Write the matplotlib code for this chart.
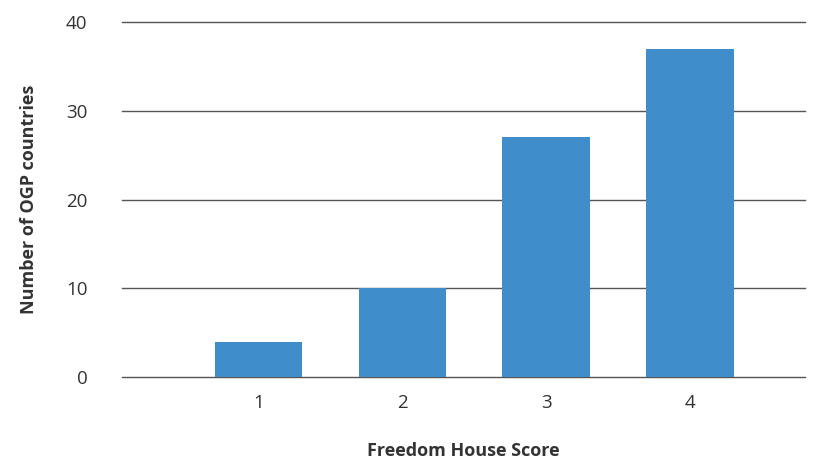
import matplotlib.pyplot as plt

plt.rcParams['font.family'] = ['Open Sans', 'DejaVu Sans']

scores = [1, 2, 3, 4]
counts = [4, 10, 27, 37]
score_labels = ['1', '2', '3', '4']
y_ticks = [0, 10, 20, 30, 40]

fig = plt.figure(figsize=(8.19, 4.61), dpi=100)
ax = fig.add_axes([0.149, 0.182, 0.834, 0.770])

ax.bar(scores, counts, width=0.61, color='#3f8dcb', zorder=3)

ax.set_xlim(0.05, 4.8)
ax.set_ylim(0, 40)
ax.set_yticks(y_ticks)
ax.set_xticks(scores)
ax.set_xticklabels(score_labels)

ax.grid(axis='y', color='#555555', linewidth=1.0, zorder=0)
for gl in ax.get_ygridlines():
    gl.set_clip_on(False)
ax.set_axisbelow(True)
for s in ['top', 'right', 'left', 'bottom']:
    ax.spines[s].set_visible(False)

ax.tick_params(axis='y', length=0, pad=25, labelsize=13.5, labelcolor='#333333')
ax.tick_params(axis='x', length=0, pad=12, labelsize=13.5, labelcolor='#333333')

ax.set_xlabel('Freedom House Score', fontsize=13, fontweight='bold',
              color='#333333', labelpad=22)
ax.set_ylabel('Number of OGP countries', fontsize=13, fontweight='bold',
              color='#333333', labelpad=20)

fig.savefig('out.png', dpi=100)
